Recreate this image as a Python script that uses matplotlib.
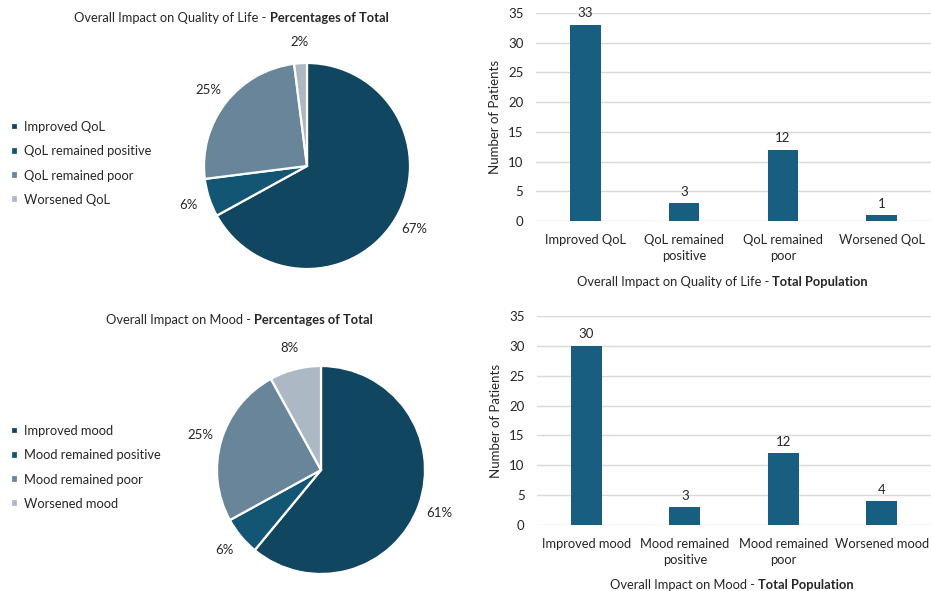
import matplotlib
matplotlib.use("Agg")
import matplotlib.pyplot as plt
from matplotlib.text import Annotation

plt.rcParams['font.family'] = ['Lato', 'DejaVu Sans']

# data
qol_labels = ['Improved QoL', 'QoL remained positive', 'QoL remained poor', 'Worsened QoL']
qol_ticks = ['Improved QoL', 'QoL remained\npositive', 'QoL remained\npoor', 'Worsened QoL']
qol_counts = [33, 3, 12, 1]
qol_pct = [67, 6, 25, 2]

mood_labels = ['Improved mood', 'Mood remained positive', 'Mood remained poor', 'Worsened mood']
mood_ticks = ['Improved mood', 'Mood remained\npositive', 'Mood remained\npoor', 'Worsened mood']
mood_counts = [30, 3, 12, 4]
mood_pct = [61, 6, 25, 8]

pie_colors = ['#10465f', '#125674', '#688599', '#adb8c5']
bar_color = '#175e80'
text_color = '#262626'

W, H = 931, 591
fig = plt.figure(figsize=(W / 100, H / 100), dpi=100)


def px(l, t, w, h):
    # pixel box (left, top, width, height) -> figure fraction
    return [l / W, 1 - (t + h) / H, w / W, h / H]


def title(x, y, normal, bold, size=9.3):
    t1 = fig.text(x / W, 1 - y / H, normal, fontsize=size, color=text_color,
                  ha='left', va='center')
    ann = Annotation(bold, xy=(1, 0.5), xycoords=t1, fontsize=size,
                     fontweight='bold', color=text_color, ha='left', va='center',
                     annotation_clip=False)
    fig.add_artist(ann)


def pie_panel(cx, cy, r, pct, labels, leg_top):
    ax = fig.add_axes(px(cx - r, cy - r, 2 * r, 2 * r))
    wedges, _, autotexts = ax.pie(pct, colors=pie_colors, startangle=90,
                                  counterclock=False, autopct='%1.0f%%',
                                  pctdistance=1.21,
                                  wedgeprops={'edgecolor': 'white', 'linewidth': 1.6})
    for t in autotexts:
        t.set_fontsize(9.5)
        t.set_color(text_color)
    ax.set_xlim(-1, 1)
    ax.set_ylim(-1, 1)
    ax.set_aspect('equal')
    ax.axis('off')
    fig.legend(wedges, labels, loc='upper left',
               bbox_to_anchor=(11 / W, 1 - leg_top / H), frameon=False,
               fontsize=9.3, handlelength=0.55, handleheight=0.55,
               handletextpad=0.45, labelspacing=0.95, labelcolor=text_color,
               borderpad=0, borderaxespad=0)


def bar_panel(l, t, w, h, counts, ticks):
    ax = fig.add_axes(px(l, t, w, h))
    x = range(len(counts))
    bars = ax.bar(x, counts, width=0.31, color=bar_color, zorder=3)
    ax.bar_label(bars, padding=4, fontsize=9.5, color=text_color)
    ax.set_xlim(-0.5, len(counts) - 0.5)
    ax.set_ylim(0, 35)
    ax.set_yticks(range(0, 36, 5))
    ax.set_xticks(list(x))
    ax.set_xticklabels(ticks, fontsize=9.3, color=text_color, linespacing=1.45)
    ax.tick_params(axis='y', labelsize=9.5, labelcolor=text_color, length=0, pad=9)
    ax.tick_params(axis='x', length=0, pad=9)
    ax.grid(axis='y', color='#d9d9d9', linewidth=1, zorder=0)
    for s in ax.spines.values():
        s.set_visible(False)
    ax.set_ylabel('Number of Patients', fontsize=9.5, color=text_color, labelpad=5)
    return ax


# top row: quality of life
title(74, 18, 'Overall Impact on Quality of Life - ', 'Percentages of Total')
pie_panel(307, 166, 103, qol_pct, qol_labels, 121)
bar_panel(536, 13, 395, 208, qol_counts, qol_ticks)
title(577, 282, 'Overall Impact on Quality of Life - ', 'Total Population')

# bottom row: mood
title(106, 320, 'Overall Impact on Mood - ', 'Percentages of Total')
pie_panel(321, 470, 104, mood_pct, mood_labels, 425)
bar_panel(537, 316, 394, 209, mood_counts, mood_ticks)
title(610, 585, 'Overall Impact on Mood - ', 'Total Population')

fig.savefig('out.png', dpi=100, facecolor='white')
